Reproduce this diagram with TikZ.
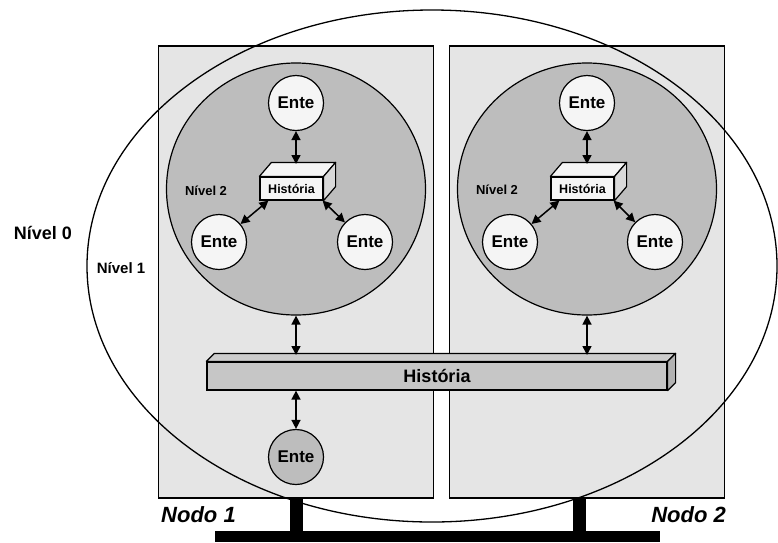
\documentclass[tikz,border=0pt]{standalone}
\usepackage{fontspec}
\setmainfont{Liberation Sans}
\usetikzlibrary{arrows.meta, positioning, shapes.geometric}

% side and top faces of a box node (node, dx, dy, top fill, side fill)
\newcommand{\boxdepth}[5]{%
  \filldraw[fill=#4, line width=1.2pt, line join=round] (#1.north west) -- ++(#2,-#3) -- ([shift={(#2,-#3)}]#1.north east) -- (#1.north east) -- cycle;
  \filldraw[fill=#5, line width=1.2pt, line join=round] (#1.north east) -- ++(#2,-#3) -- ([shift={(#2,-#3)}]#1.south east) -- (#1.south east) -- cycle;
}

\begin{document}
\begin{tikzpicture}[
    x=1pt, y=-1pt,
    host/.style={rectangle, draw=black, line width=1.4pt, fill=gray!20, minimum width=275pt, minimum height=452pt, inner sep=0pt},
    group/.style={ellipse, draw=black, line width=1.2pt, fill=gray!52, minimum width=259pt, minimum height=252pt, inner sep=0pt},
    ente/.style={circle, draw=black, line width=1.2pt, fill=gray!8, minimum size=55pt, inner sep=0pt, font=\fontsize{17}{17}\selectfont\bfseries},
    hist/.style={rectangle, draw=black, line width=1.2pt, fill=gray!8, minimum width=63pt, minimum height=23pt, inner sep=0pt, font=\fontsize{12.5}{12.5}\selectfont\bfseries},
    bar/.style={rectangle, draw=black, line width=1.2pt, fill=gray!45, minimum width=460pt, minimum height=28pt, inner sep=0pt, font=\fontsize{18}{18}\selectfont\bfseries},
    arrow/.style={{Triangle[length=9pt,width=9pt]}-{Triangle[length=9pt,width=9pt]}, line width=1.5pt},
    label/.style={font=\fontsize{13}{13}\selectfont\bfseries},
    nodo/.style={font=\fontsize{22}{22}\selectfont\bfseries\itshape}
]
\useasboundingbox (0,0) rectangle (778,542);
% Hosts
\node[host] (host1) at (296,272) {};
\node[host] (host2) at (587,272) {};
% Nivel 1
\node[ellipse, draw=black, line width=1.3pt, minimum width=690pt, minimum height=512pt, inner sep=0pt] (nivel1) at (432,266) {};
% Nivel 2 groups
\node[group] (group1) at (296,189) {};
\node[group] (group2) at (587,189) {};
% Entes and local history, node 1
\node[ente] (ente1a) at (296,103) {Ente};
\node[ente] (ente1b) at (219,242) {Ente};
\node[ente] (ente1c) at (365,242) {Ente};
\node[hist] (hist1) at (291.5,188.5) {História};
\boxdepth{hist1}{12}{14}{gray!8}{gray!30}
\coordinate (hist1top) at (297,164);
% Entes and local history, node 2
\node[ente] (ente2a) at (587,103) {Ente};
\node[ente] (ente2b) at (510,242) {Ente};
\node[ente] (ente2c) at (655,242) {Ente};
\node[hist] (hist2) at (582.5,188.5) {História};
\boxdepth{hist2}{12}{14}{gray!8}{gray!30}
\coordinate (hist2top) at (588,164);
% Global history
\node[bar] (bar) at (437,376) {História};
\boxdepth{bar}{8}{8}{gray!40}{gray!60}
\coordinate (bartop) at (437,355);
% Level 1 ente
\node[ente, fill=gray!52] (ente0) at (296,457) {Ente};
% Arrows - node 1
\draw[arrow] (ente1a) -- (ente1a |- hist1top);
\draw[arrow] (ente1b) -- ([xshift=9pt]hist1.south west);
\draw[arrow] (ente1c) -- ([xshift=-1pt]hist1.south east);
% Arrows - node 2
\draw[arrow] (ente2a) -- (ente2a |- hist2top);
\draw[arrow] (ente2b) -- ([xshift=9pt]hist2.south west);
\draw[arrow] (ente2c) -- ([xshift=-1pt]hist2.south east);
% Arrows - global history
\draw[arrow] (group1.south) -- (group1.south |- bartop);
\draw[arrow] (group2.south) -- (group2.south |- bartop);
\draw[arrow] (ente0 |- bar.south) -- (ente0);
% Labels
\node[label, font=\fontsize{18}{18}\selectfont\bfseries] (lvl0) at (43,233) {Nível 0};
\node[label, font=\fontsize{15}{15}\selectfont\bfseries] (lvl1) at (121,268) {Nível 1};
\node[label] (lvl2a) at (206,191) {Nível 2};
\node[label] (lvl2b) at (497,190) {Nível 2};
\node[nodo, anchor=west, inner sep=0pt] (nodo1) at (161,515) {Nodo 1};
\node[nodo, anchor=east, inner sep=0pt] (nodo2) at (726,515) {Nodo 2};
% Network
\fill[black] (215,531) rectangle (660,542);
\fill[black] (290,499) rectangle (303,531);
\fill[black] (573,499) rectangle (586,531);
\end{tikzpicture}
\end{document}
